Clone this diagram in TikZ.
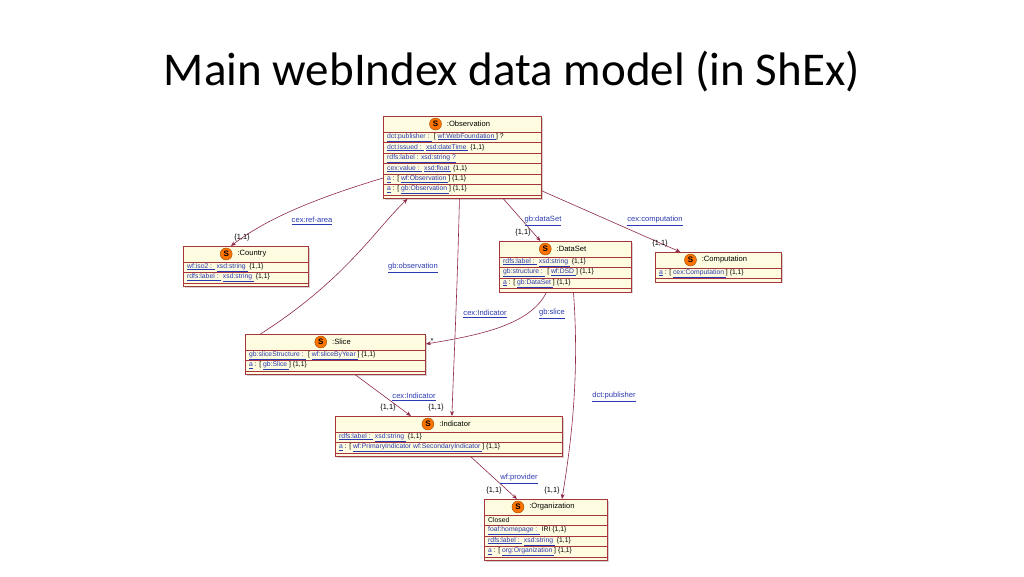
\documentclass[tikz,border=0pt]{standalone}
\usepackage{fontspec}
\setmainfont{Liberation Sans}
\newfontfamily\titlefont{Carlito}
\usetikzlibrary{arrows.meta,positioning,shadows}
\definecolor{bord}{HTML}{A8343C}
\definecolor{fillc}{HTML}{FEFCE0}
\definecolor{lnk}{HTML}{2A3AB0}
\definecolor{edgec}{HTML}{8E2A44}
\newcommand\lk[1]{\textcolor{lnk}{\underline{#1}}}
\tikzset{
 umlshape/.style={draw=bord,fill=fillc,line width=0.9pt,drop shadow={shadow xshift=1.5pt,shadow yshift=-1.5pt,opacity=0.35},inner sep=0pt},
 rowtxt/.style={font=\fontsize{6.8}{7}\selectfont,inner sep=0pt,anchor=west},
 ttl/.style={font=\fontsize{7.6}{8}\selectfont,inner sep=0pt},
 sicon/.style={circle,fill=orange!90!red,draw=orange!60!black,line width=0.4pt,minimum size=12pt,inner sep=0pt,font=\fontsize{8}{8}\bfseries\selectfont},
 elabel/.style={font=\fontsize{7.6}{8}\selectfont,text=lnk,inner sep=0pt},
 mult/.style={font=\fontsize{7.4}{8}\selectfont,inner sep=0pt},
 rel/.style={draw=edgec,line width=0.6pt,-{Stealth[length=5pt,width=4pt]}}
}
\newcommand\umlbox[7]{%
 \node[umlshape,minimum width=#4pt,minimum height={(16+10.5*#6+3)*1pt},anchor=north west] (#1) at (#2,#3) {};
 \node[ttl] (#1-t) at ([xshift=6pt,yshift=-8pt]#1.north) {#5};
 \node[sicon,left=5pt of #1-t] (#1-s) {S};
 \foreach \r [count=\i] in {#7}{
   \draw[bord,line width=0.5pt] (#2,{#3+16+10.5*(\i-1)}) -- ++(#4,0);
   \node[rowtxt] (#1-r\i) at ({#2+4},{#3+16+10.5*(\i-0.5)}) {\r};
 }
 \draw[bord,line width=0.5pt] (#2,{#3+16+10.5*#6}) -- ++(#4,0);
}
\begin{document}
\begin{tikzpicture}[x=1pt,y=-1pt]
\useasboundingbox (0,0) rectangle (1024,576);
\node[font=\titlefont\fontsize{47}{52}\selectfont] (title) at (512,72) {Main webIndex data model (in ShEx)};

\umlbox{obs}{383}{116}{158}{:Observation}{6}{%
 {\lk{dct:publisher : } [ \lk{wf:WebFoundation }] ?},
 {\lk{dct:issued : } \lk{xsd:dateTime } \{1,1\}},
 {\lk{rdfs:label : xsd:string  ?}},
 {\lk{cex:value : } \lk{xsd:float } \{1,1\}},
 {\lk{a} : [ \lk{wf:Observation }] \{1,1\}},
 {\lk{a} : [ \lk{gb:Observation }] \{1,1\}}}
\umlbox{ctry}{183}{246}{125}{:Country}{2}{%
 {\lk{wf:iso2 : } \lk{xsd:string } \{1,1\}},
 {\lk{rdfs:label : } \lk{xsd:string } \{1,1\}}}
\umlbox{ds}{499}{241}{132}{:DataSet}{3}{%
 {\lk{rdfs:label : } \lk{xsd:string } \{1,1\}},
 {\lk{gb:structure : } [ \lk{wf:DSD }] \{1,1\}},
 {\lk{a} : [ \lk{gb:DataSet }] \{1,1\}}}
\umlbox{comp}{655}{252}{126}{:Computation}{1}{%
 {\lk{a} : [ \lk{cex:Computation }] \{1,1\}}}
\umlbox{sl}{245}{334}{180}{:Slice}{2}{%
 {\lk{gb:sliceStructure : } [ \lk{wf:sliceByYear }] \{1,1\}},
 {\lk{a} : [ \lk{gb:Slice }] \{1,1\}}}
\umlbox{ind}{335}{416}{227}{:Indicator}{2}{%
 {\lk{rdfs:label : } \lk{xsd:string } \{1,1\}},
 {\lk{a} : [ \lk{wf:PrimaryIndicator wf:SecondaryIndicator }] \{1,1\}}}
\umlbox{org}{484}{499}{123}{:Organization}{4}{%
 {Closed},
 {\lk{foaf:homepage : } IRI \{1,1\}},
 {\lk{rdfs:label : } \lk{xsd:string } \{1,1\}},
 {\lk{a} : [ \lk{org:Organization }] \{1,1\}}}

% edges
\coordinate (obsL) at (383,178);
\draw[rel] (obsL) .. controls (310,200) and (265,220) .. ([xshift=-15pt]ctry.north);
\draw[rel] ([xshift=-75pt]sl.north) .. controls (345,280) and (375,230) .. ([xshift=-55pt]obs.south);
\draw[rel] ([xshift=-3pt]obs.south) .. controls (457,300) and (453,380) .. ([xshift=3pt]ind.north);
\draw[rel] ([xshift=41pt]obs.south) -- ([xshift=-25pt]ds.north);
\draw[rel] ([yshift=8pt]obs.south east) -- ([xshift=-38pt]comp.north);
\draw[rel] ([xshift=-19pt]ds.south) .. controls (530,325) and (480,335) .. ([yshift=-10pt]sl.north east);
\draw[rel] ([xshift=8pt]ds.south) .. controls (580,380) and (570,450) .. ([xshift=16pt]org.north);
\draw[rel] ([xshift=20pt]sl.south) -- ([xshift=-38pt]ind.north);
\draw[rel] ([xshift=22pt]ind.south) -- ([xshift=-29pt]org.north);

\node[elabel] (l1) at (312,221) {\underline{cex:ref-area}};
\node[mult] (m1) at (242,238) {\{1,1\}};
\node[elabel] (l2) at (413,268) {\underline{gb:observation}};
\node[elabel] (l3) at (485,314) {\underline{cex:Indicator}};
\node[mult] (m3) at (436,408) {\{1,1\}};
\node[elabel] (l4) at (543,221) {\underline{gb:dataSet}};
\node[mult] (m4) at (523,233) {\{1,1\}};
\node[elabel] (l5) at (655,221) {\underline{cex:computation}};
\node[mult] (m5) at (660,244) {\{1,1\}};
\node[elabel] (l6) at (552,314) {\underline{gb:slice}};
\node[mult] (m6) at (432,341) {*};
\node[elabel] (l7) at (614,397) {\underline{dct:publisher}};
\node[mult] (m7) at (552,491) {\{1,1\}};
\node[elabel] (l8) at (414,397) {\underline{cex:Indicator}};
\node[mult] (m8) at (388,408) {\{1,1\}};
\node[elabel] (l9) at (519,479) {\underline{wf:provider}};
\node[mult] (m9) at (494,491) {\{1,1\}};
\end{tikzpicture}
\end{document}
